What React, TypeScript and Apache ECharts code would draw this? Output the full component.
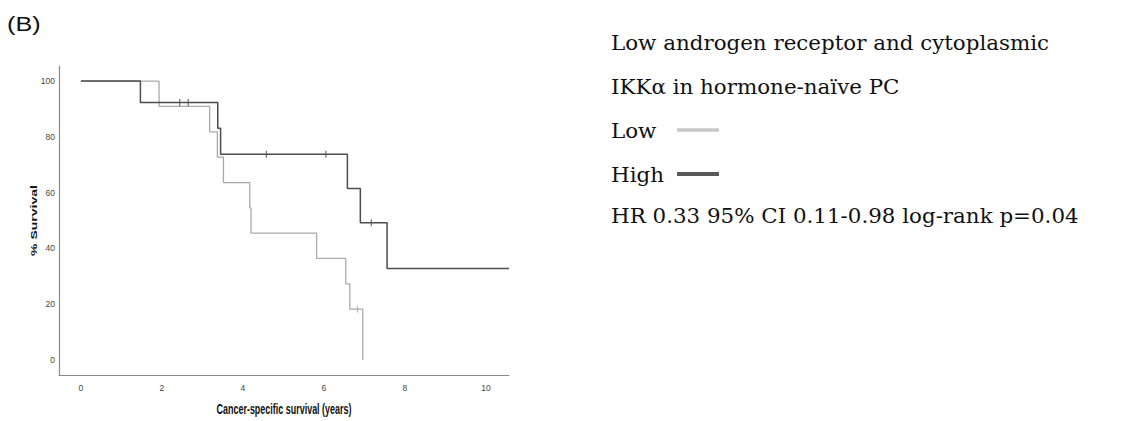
import React, { useEffect, useRef } from "react";
import * as echarts from "echarts";

// Kaplan–Meier steps: [years, % surviving]
const lowSteps: [number, number][] = [
  [0, 100], [1.93, 90.9], [3.18, 81.8], [3.37, 72.7], [3.52, 63.6],
  [4.17, 54.5], [4.2, 45.5], [5.82, 36.4], [6.54, 27.3], [6.64, 18.2],
  [6.96, 0],
];
const highSteps: [number, number][] = [
  [0, 100], [1.47, 92.3], [3.38, 83.1], [3.45, 73.8], [6.58, 61.5],
  [6.9, 49.2], [7.56, 32.8], [10.57, 32.8],
];
// Censored observations
const lowCensored: [number, number][] = [[6.83, 18.2]];
const highCensored: [number, number][] = [
  [2.44, 92.3], [2.65, 92.3], [4.58, 73.8], [6.05, 73.8], [7.17, 49.2],
];

const xTickValues = [0, 2, 4, 6, 8, 10];
const yTickValues = [0, 20, 40, 60, 80, 100];

const panelLabel = "(B)";
const xTitle = "Cancer-specific survival (years)";
const yTitle = "% Survival";
const infoTitle1 = "Low androgen receptor and cytoplasmic";
const infoTitle2 = "IKKα in hormone-naïve PC";
const legendNames = ["Low", "High"];
const statsLine = "HR 0.33 95% CI 0.11-0.98 log-rank p=0.04";

const LOW_COLOR = "#a9a9a9";
const HIGH_COLOR = "#4d4d4d";
const SANS = "'Liberation Sans', Arial, sans-serif";
const SERIF = "'DejaVu Serif', 'Liberation Serif', serif";

const GRID = { left: 59, right: 612, top: 66, bottom: 46 };
const W = 1121;
const H = 421;

export default function App() {
  const ref = useRef<HTMLDivElement>(null);

  useEffect(() => {
    if (!ref.current) return;
    const chart = echarts.init(ref.current, undefined, { renderer: "svg" });
    const plotCenterX = (GRID.left + (W - GRID.right)) / 2;
    const plotCenterY = (GRID.top + (H - GRID.bottom)) / 2;
    const infoText = (text: string, y: number) => ({
      type: "text",
      x: 611,
      y,
      scaleX: 1.07,
      style: { text, font: `20px ${SERIF}`, fill: "#111", verticalAlign: "middle" },
    });

    chart.setOption({
      animation: false,
      backgroundColor: "#ffffff",
      grid: GRID,
      xAxis: {
        type: "value",
        min: -0.54,
        max: 10.57,
        axisLine: { show: true, onZero: false, lineStyle: { color: "#8a8a8a", width: 1.2 } },
        axisTick: { show: false },
        splitLine: { show: false },
        axisLabel: {
          customValues: xTickValues,
          fontFamily: SANS,
          fontSize: 8.5,
          color: "#444",
          margin: 8,
        },
      },
      yAxis: {
        type: "value",
        min: -5.4,
        max: 105.4,
        axisLine: { show: true, onZero: false, lineStyle: { color: "#8a8a8a", width: 1.2 } },
        axisTick: { show: false },
        splitLine: { show: false },
        axisLabel: {
          customValues: yTickValues,
          fontFamily: SANS,
          fontSize: 8.5,
          color: "#444",
          margin: 4,
        },
      },
      series: [
        {
          name: legendNames[0],
          type: "line",
          step: "end",
          data: lowSteps,
          showSymbol: false,
          lineStyle: { color: LOW_COLOR, width: 1.3 },
          z: 2,
        },
        {
          name: legendNames[1],
          type: "line",
          step: "end",
          data: highSteps,
          showSymbol: false,
          lineStyle: { color: HIGH_COLOR, width: 1.5 },
          z: 3,
        },
        {
          type: "scatter",
          data: lowCensored,
          symbol: "rect",
          symbolSize: [1.2, 7],
          itemStyle: { color: LOW_COLOR },
          z: 4,
        },
        {
          type: "scatter",
          data: highCensored,
          symbol: "rect",
          symbolSize: [1.2, 7],
          itemStyle: { color: HIGH_COLOR },
          z: 4,
        },
      ],
      graphic: [
        {
          type: "text",
          x: 7,
          y: 24,
          scaleX: 1.2,
          style: { text: panelLabel, font: `21px ${SANS}`, fill: "#111", verticalAlign: "middle" },
        },
        // Axis titles, set in a condensed bold face
        {
          type: "text",
          x: plotCenterX,
          y: 409,
          scaleX: 0.64,
          style: {
            text: xTitle,
            font: `bold 14px ${SANS}`,
            fill: "#111",
            align: "center",
            verticalAlign: "middle",
          },
        },
        {
          type: "text",
          x: 34,
          y: plotCenterY,
          rotation: Math.PI / 2,
          scaleY: 0.68,
          style: {
            text: yTitle,
            font: `bold 14px ${SANS}`,
            fill: "#111",
            align: "center",
            verticalAlign: "middle",
          },
        },
        infoText(infoTitle1, 43),
        infoText(infoTitle2, 87),
        infoText(legendNames[0], 131),
        {
          type: "line",
          shape: { x1: 677, y1: 130, x2: 719, y2: 130 },
          style: { stroke: "#c8c8c8", lineWidth: 3.5 },
        },
        infoText(legendNames[1], 175),
        {
          type: "line",
          shape: { x1: 677, y1: 174, x2: 719, y2: 174 },
          style: { stroke: "#5a5a5a", lineWidth: 4 },
        },
        infoText(statsLine, 216),
      ],
    });
    return () => chart.dispose();
  }, []);

  return (
    <div
      ref={ref}
      style={{ position: "absolute", left: 0, top: 0, width: W, height: H }}
    />
  );
}
